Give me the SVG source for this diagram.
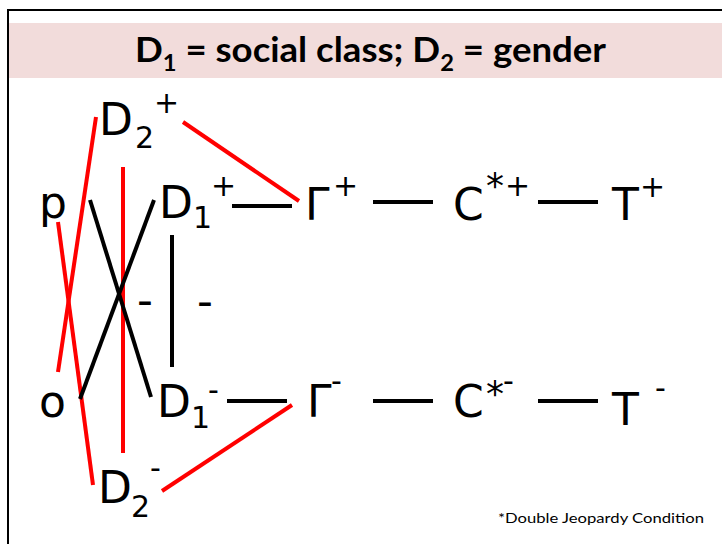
<svg xmlns="http://www.w3.org/2000/svg" width="722" height="544" viewBox="0 0 722 544">
<style>
.lbl{font-family:"DejaVu Sans",Verdana,sans-serif;font-size:44px;fill:#000}
.sub{font-size:30px}
.sup{font-size:30px}
.ast{font-size:36px}
.blk{stroke:#000;stroke-width:4;fill:none}
.red{stroke:#FF0000;stroke-width:4;fill:none}
</style>
<rect x="0" y="0" width="722" height="544" fill="#fff"/>
<rect x="8" y="10" width="730" height="560" fill="#fff" stroke="#000" stroke-width="2"/>
<rect x="9" y="23" width="713" height="55" fill="#F2DCDB"/>
<g id="title">
<text x="135" y="62" font-family="Lato,'Liberation Sans',sans-serif" font-weight="bold" font-size="34" textLength="471" lengthAdjust="spacingAndGlyphs">D<tspan dy="9" font-size="22">1</tspan><tspan dy="-9"> = social class; D</tspan><tspan dy="9" font-size="22">2</tspan><tspan dy="-9"> = gender</tspan></text>
</g>
<g id="connectors">
<line class="red" x1="183" y1="122" x2="299" y2="201"/>
<line class="red" x1="96" y1="117" x2="58" y2="372"/>
<line class="red" x1="58" y1="222" x2="93" y2="485"/>
<line class="red" x1="123" y1="167" x2="123" y2="453"/>
<line class="red" x1="162" y1="491" x2="292" y2="405"/>
<line class="blk" x1="90" y1="200" x2="151" y2="397"/>
<line class="blk" x1="154" y1="200" x2="80" y2="399"/>
<line class="blk" x1="172" y1="235" x2="172" y2="367"/>
<line class="blk" x1="232" y1="206" x2="292" y2="206"/>
<line class="blk" x1="373" y1="202" x2="433" y2="202"/>
<line class="blk" x1="538" y1="202" x2="598" y2="202"/>
<line class="blk" x1="227" y1="401" x2="287" y2="401"/>
<line class="blk" x1="373" y1="401" x2="433" y2="401"/>
<line class="blk" x1="538" y1="401" x2="598" y2="401"/>
<text class="lbl" x="137" y="315" font-size="36">-</text>
<text class="lbl" x="197" y="316" font-size="36">-</text>
</g>
<g id="D2plus"><text class="lbl" x="99" y="135">D<tspan class="sub" x="135" y="148">2</tspan><tspan class="sup" x="154" y="113">+</tspan></text></g>
<g id="p"><text class="lbl" x="39" y="218">p</text></g>
<g id="D1plus"><text class="lbl" x="159" y="218">D<tspan class="sub" x="193" y="228">1</tspan><tspan class="sup" x="211" y="196">+</tspan></text></g>
<g id="Gammaplus"><text class="lbl" x="305" y="220">Γ<tspan class="sup" x="333" y="196">+</tspan></text></g>
<g id="Cplus"><text class="lbl" x="453" y="220">C<tspan class="ast" x="486" y="198">*</tspan><tspan class="sup" x="505" y="196">+</tspan></text></g>
<g id="Tplus"><text class="lbl" x="612" y="220">T<tspan class="sup" x="640" y="197">+</tspan></text></g>
<g id="o"><text class="lbl" x="39" y="417">o</text></g>
<g id="D1minus"><text class="lbl" x="157" y="417">D<tspan class="sub" x="191" y="428">1</tspan><tspan class="sup" x="208" y="400">-</tspan></text></g>
<g id="Gammaminus"><text class="lbl" x="307" y="417">Γ<tspan class="sup" x="331" y="391">-</tspan></text></g>
<g id="Cminus"><text class="lbl" x="453" y="417">C<tspan class="ast" x="486" y="406">*</tspan><tspan class="sup" x="503" y="391">-</tspan></text></g>
<g id="Tminus"><text class="lbl" x="612" y="425">T<tspan class="sup" x="655" y="398">-</tspan></text></g>
<g id="D2minus"><text class="lbl" x="98" y="503">D<tspan class="sub" x="131" y="517">2</tspan><tspan class="sup" x="150" y="478">-</tspan></text></g>
<g id="note"><text x="498" y="523" font-family="Lato,'Liberation Sans',sans-serif" font-size="14" textLength="206" lengthAdjust="spacingAndGlyphs">*Double Jeopardy Condition</text></g>
</svg>
